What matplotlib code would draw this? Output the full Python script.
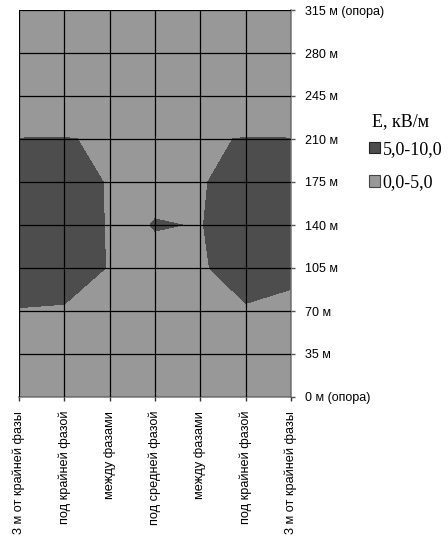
import matplotlib
matplotlib.use("Agg")
import matplotlib.pyplot as plt
from matplotlib.patches import Patch
import numpy as np

# Categories across the line (x) and distance along the span (y)
x_labels = ["3 м от крайней фазы", "под крайней фазой", "между фазами",
            "под средней фазой", "между фазами", "под крайней фазой",
            "3 м от крайней фазы"]
y_values = [0, 35, 70, 105, 140, 175, 210, 245, 280, 315]
y_labels = ["0 м (опора)", "35 м", "70 м", "105 м", "140 м", "175 м",
            "210 м", "245 м", "280 м", "315 м (опора)"]

# Field strength E, kV/m: one list per category column, bottom (0 m) to top (315 m)
E_col0 = [3.8, 4.2, 4.89, 6.3, 7.0, 6.6, 5.03, 3.6, 3.5, 3.4]
E_col1 = [3.9, 4.3, 4.72, 6.5, 8.0, 6.5, 5.06, 3.6, 3.5, 3.4]
E_col2 = [3.7, 4.1, 4.50, 4.85, 4.6, 4.75, 4.85, 4.1, 3.7, 3.5]
E_col3 = [3.6, 4.0, 4.60, 4.70, 5.05, 4.70, 4.5, 4.0, 3.6, 3.4]
E_col4 = [3.7, 4.1, 4.50, 4.80, 4.967, 4.80, 4.85, 4.1, 3.7, 3.5]
E_col5 = [3.9, 4.3, 4.83, 5.80, 5.44, 6.00, 5.06, 3.6, 3.5, 3.4]
E_col6 = [3.8, 4.2, 4.49, 5.50, 6.00, 6.20, 5.03, 3.6, 3.5, 3.4]

levels = [0.0, 5.0, 10.0]
level_labels = ["0,0-5,0", "5,0-10,0"]
legend_title = "E, кВ/м"
light = "#989898"
dark = "#4d4d4d"

Z = np.array([E_col0, E_col1, E_col2, E_col3, E_col4, E_col5, E_col6]).T
xs = np.arange(len(x_labels))

fig = plt.figure(figsize=(4.48, 5.44), dpi=100)
ax = fig.add_axes([19/448, 1 - 397/544, 272/448, 387/544])

ax.contourf(xs, y_values, Z, levels=levels, colors=[light, dark])

ax.set_xlim(0, len(x_labels) - 1)
ax.set_ylim(0, 315)
ax.set_xticks(xs)
ax.set_xticklabels(x_labels, rotation=90, va="top", ha="center",
                   fontsize=9.2, family=["Liberation Sans", "DejaVu Sans"])
ax.set_yticks(y_values)
ax.set_yticklabels(y_labels, fontsize=9, family=["Liberation Sans", "DejaVu Sans"])
ax.yaxis.tick_right()
ax.tick_params(axis="y", length=3, width=1, color="#555555", pad=7, direction="out")
ax.tick_params(axis="x", length=3, width=1, color="#333333", pad=7, direction="out")

ax.grid(True, color="black", linewidth=0.9)
ax.set_axisbelow(False)
for s in ["left", "top"]:
    ax.spines[s].set_visible(False)
for s in ["right", "bottom"]:
    ax.spines[s].set_color("#808080")
    ax.spines[s].set_linewidth(1.2)

fig.text(372/448, 1 - 122/544, legend_title, ha="left", va="center",
         family="Liberation Serif", fontsize=13)

handles = [Patch(facecolor=dark, edgecolor="#222222", linewidth=0.8, label=level_labels[1]),
           Patch(facecolor=light, edgecolor="#444444", linewidth=0.8, label=level_labels[0])]
leg = fig.legend(handles=handles, loc="upper left",
                 bbox_to_anchor=(369/448, 1 - 141/544), frameon=False,
                 prop={"family": "Liberation Serif", "size": 13},
                 handlelength=0.6, handleheight=0.6, handletextpad=0.15,
                 labelspacing=0.9, borderaxespad=0, borderpad=0)

fig.savefig("out.png", dpi=100)
